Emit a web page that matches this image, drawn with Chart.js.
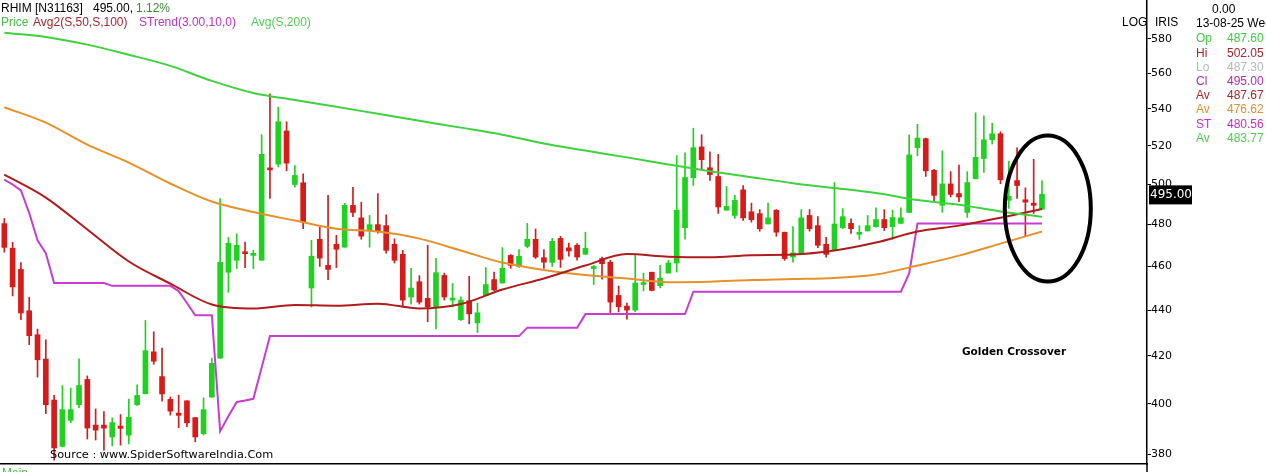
<!DOCTYPE html>
<html>
<head>
<meta charset="utf-8">
<title>RHIM - Golden Crossover</title>
<script src="https://cdn.jsdelivr.net/npm/chart.js"></script>
<style>
html, body { margin: 0; padding: 0; background: #fff; }
#wrap { width: 1266px; height: 472px; }
</style>
</head>
<body>
<div id="wrap"><canvas id="priceChart"></canvas></div>
<script>
// daily candles, oldest first
const opens = [480.5, 468.6, 458.6, 439.7, 429.1, 418.6, 401.5, 383, 393.3, 399.6,
  410, 391.4, 391.4, 386.7, 391, 387.4, 399.6, 404.1, 421.7, 411.2,
  401.8, 396.2, 401.2, 394.4, 388, 402.7, 419, 457.3, 462.9, 466.7,
  465.2, 462.9, 508.5, 510.5, 528, 500, 500.9, 450, 472.9, 460.5,
  470.5, 469.1, 489.5, 483.3, 477.1, 480, 479.5, 470.5, 465.7, 445.9,
  452.9, 445.3, 441.4, 455.8, 444.5, 435.7, 444.2, 434.3, 446.6, 453.9,
  452.3, 465.2, 460, 469.5, 472.9, 464.1, 461.9, 473.3, 468.8, 470,
  465.7, 459, 463.7, 462, 446.6, 441.8, 440, 451.6, 457.3, 451.1,
  456.9, 461.6, 478.5, 503.5, 519.5, 508.6, 504.1, 487.1, 484.5, 497.3,
  486.3, 485.4, 480.3, 487.1, 476.3, 464.4, 465.7, 484.5, 479.5, 470.5,
  467.6, 478.5, 480.6, 475.3, 476.9, 479, 482.5, 479, 480.6, 486,
  519.1, 523.9, 507.3, 489.5, 500.3, 495.4, 486, 502.9, 513.4, 523.3,
  526.5, 492, 502, 492.3, 490.6, 487.6];
const highs = [483, 471.4, 461.8, 445.8, 431.6, 426.9, 403.4, 407.5, 406.4, 418.7,
  411.5, 397.9, 396.8, 394.3, 395.6, 401.9, 407.8, 435.4, 430.4, 423.3,
  402.8, 403.5, 401.2, 394.4, 402.4, 419, 492.9, 473.8, 475.5, 471.6,
  467.6, 526, 548.3, 541, 533, 509.7, 505.5, 472.4, 478.7, 494.5,
  474.8, 490.6, 498.6, 491.1, 484.5, 495.4, 484.8, 473.1, 467.6, 459.1,
  455.7, 470, 463.8, 456.9, 452.1, 446, 455.4, 443.2, 459.5, 457.4,
  468.9, 465.6, 467.9, 480.6, 477.9, 467.9, 473.3, 474.3, 471.1, 470.8,
  476.3, 460.5, 464.4, 462.9, 450.9, 443.2, 465.2, 456.9, 457.3, 460.5,
  462.9, 514.9, 516.4, 529.5, 526, 516.9, 515.6, 499, 494.5, 499.5,
  490.6, 487.4, 490.6, 487.4, 476.3, 479.1, 487.4, 487.4, 483.9, 473.8,
  501, 487.9, 482.8, 479.5, 484.5, 488.3, 487.4, 487.1, 488.3, 526,
  531.6, 524.2, 507.8, 517.5, 506.6, 510, 506.6, 537.9, 536.2, 532.2,
  527.6, 512, 519, 498.3, 513, 502.05];
const lows = [466.7, 446.4, 435.7, 424.8, 411, 396, 377.7, 382.8, 392.3, 398.4,
  385.9, 385.5, 381.5, 383.2, 383.5, 384, 399.3, 404, 416.4, 401,
  395.4, 390.4, 390.8, 384.8, 387.5, 402.7, 419, 448, 459, 459.4,
  459, 462.9, 493, 509, 507, 498.6, 478, 441.4, 460, 453.8,
  459.5, 469.1, 483.9, 472.9, 469.1, 475.8, 466.2, 461.6, 441.4, 442.7,
  442.7, 434.8, 431.6, 444.5, 441.4, 435.4, 433.9, 430, 446.6, 448.8,
  452.3, 459.1, 459.5, 468.9, 463.7, 459.1, 460, 459.5, 464.8, 462.9,
  465.7, 451.6, 454.1, 438.3, 439.2, 436, 439.2, 448.7, 448.7, 450.1,
  456.9, 457.4, 472.9, 499.5, 507.7, 502.1, 485.5, 487.1, 483, 482,
  481.2, 476.8, 480.3, 474.3, 462.9, 462, 465.7, 476.8, 468.9, 464.4,
  467.6, 478, 475.7, 472.8, 476.9, 478.7, 477.1, 472.8, 480.6, 486,
  514.9, 504.1, 491.7, 486, 493.7, 491.3, 483.5, 502.9, 506.2, 521,
  500.4, 488, 493, 474.3, 485.5, 487.3];
const closes = [469, 450.5, 438.7, 428.7, 418.3, 399.6, 382.4, 397.6, 397.6, 407.5,
  390.2, 389.4, 390.2, 392.4, 390.1, 394.5, 403.4, 422.2, 417.7, 404,
  397, 395.3, 392.3, 386.7, 397.6, 416.8, 461.9, 471, 470, 466,
  465.7, 515.6, 507.5, 533, 511, 504.6, 481.2, 464.8, 463.9, 458.6,
  468.1, 489.5, 486, 474.4, 480, 476.8, 467.6, 462.9, 444.5, 450,
  443.6, 441.4, 457.1, 445.9, 445, 444.5, 438.3, 438.8, 451.6, 449.1,
  459.1, 460.5, 464.8, 472.9, 464.4, 462, 471.9, 463.3, 467.3, 464.4,
  468.6, 459.3, 461.3, 443.6, 441.5, 440, 452.3, 452, 448.9, 454.5,
  461.6, 487.1, 503.6, 519.1, 512.8, 505.1, 488.7, 489, 492, 483.3,
  482.4, 478, 483.3, 476.3, 463.7, 466.4, 483.3, 478, 470, 465.7,
  480.3, 483.9, 478, 475.8, 479.5, 482.5, 478.5, 483.5, 483.3, 515.3,
  524.2, 507, 494.5, 500.3, 495, 493.7, 501, 514, 523.3, 526.5,
  502.4, 494, 499.5, 491.1, 489.5, 495];

// moving averages, read every 5th candle
const avgIdx = [0, 5, 10, 15, 20, 25, 30, 35, 40, 45, 50, 55, 60, 65, 70, 75, 80, 85, 90, 95, 100, 105, 110, 115, 120, 125];
const avg200 = [583.5, 581, 576.5, 570.6, 564.2, 555.6, 548.8, 544.9, 541.2, 537.3, 533.5, 529.8, 526, 521.3, 517.6, 514, 510.3, 506.8, 503.7, 500.7, 498.2, 495.7, 492.2, 489.8, 486.5, 483.8];
const avg50 = [505.1, 493.4, 477.6, 462.3, 452, 442.5, 440.7, 442.3, 442, 442.9, 440.7, 442.7, 449.3, 454.4, 460.4, 465.8, 464.6, 464.3, 465.3, 465.6, 467.5, 471.3, 476.6, 479.5, 483.4, 487.67];
const avg100 = [540.9, 532.5, 520.7, 511.3, 500.5, 491.4, 486.2, 482, 478, 476.6, 473.2, 467.5, 461.8, 458.3, 456, 454.4, 452.7, 452.9, 453.7, 454.1, 454.6, 456.2, 460.4, 465.1, 470.8, 476.62];

// supertrend corners
const stIdx = [0, 1, 2, 3, 4, 5, 6, 12, 13, 20, 21, 22, 23, 25, 26, 27, 28, 29, 30, 31, 32, 62, 63, 69, 70, 82, 83, 108, 109, 110, 125];
const stVal = [502.5, 500, 497, 485.7, 472.4, 466.2, 452.3, 452.3, 451, 451, 448.6, 443.2, 437.7, 437.7, 388.9, 395, 400.7, 401.3, 402, 415, 428.5, 428.5, 432.2, 432.2, 438.2, 438.2, 448.3, 448.3, 456.7, 480.56, 480.56];

const yTicks = [380, 400, 420, 440, 460, 480, 500, 520, 540, 560, 580];
const lastPrice = 495.00;

// info panel on the right
const panelLabels = ['Op', 'Hi', 'Lo', 'Cl', 'Av', 'Av', 'ST', 'Av'];
const panelValues = ['487.60', '502.05', '487.30', '495.00', '487.67', '476.62', '480.56', '483.77'];
const panelColors = ['#3ccf3c', '#a8262c', '#b8b8b8', '#b52ab5', '#a8262c', '#e0902e', '#c030c8', '#4fcf4f'];

// ellipse round the crossover (centre in data units)
const ringX = 125.7, ringY = 487.9;

const UP = '#1fd21f', DOWN = '#d71a1a';
const candleColors = opens.map((o, i) => closes[i] >= o ? UP : DOWN);
const wicks = opens.map((o, i) => ({ x: i, y: [lows[i], highs[i]] }));
const bodies = opens.map((o, i) => ({ x: i, y: [Math.min(o, closes[i]), Math.max(o, closes[i])] }));
const pts = (xs, ys) => xs.map((v, i) => ({ x: v, y: ys[i] }));

const FONT = '"DejaVu Sans", Verdana, sans-serif';
const SANS = '"Liberation Sans", Arial, sans-serif';

const overlay = {
    id: 'overlay',
    afterDraw(chart) {
        const { ctx, chartArea: a, scales: { x, y } } = chart;
        ctx.save();
        // axis line runs down to the bottom edge
        ctx.strokeStyle = '#000';
        ctx.lineWidth = 1.5;
        ctx.beginPath();
        ctx.moveTo(a.right, a.bottom);
        ctx.lineTo(a.right, chart.height);
        ctx.stroke();

        ctx.textBaseline = 'middle';
        const put = (t, px, py, color, font) => {
            ctx.font = font || ('12px ' + SANS);
            ctx.fillStyle = color;
            ctx.fillText(t, px, py);
        };
        // header
        put('RHIM [N31163]', 1, 9, '#000');
        put('495.00,', 93, 9, '#000');
        put('1.12%', 136, 9, '#3a8a3a');
        put('Price', 1, 23, '#45c045');
        put('Avg2(S,50,S,100)', 33, 23, '#a8262c');
        put('STrend(3.00,10,0)', 139, 23, '#c030c8');
        put('Avg(S,200)', 251, 23, '#4fcf4f');

        // right side panel
        put('LOG', 1122, 23, '#000');
        put('IRIS', 1155, 23, '#000');
        put('0.00', 1212, 10, '#000');
        put('13-08-25 Wed', 1196, 24, '#000');
        panelLabels.forEach((lab, i) => {
            put(lab, 1196, 39 + i * 14.2, panelColors[i]);
            put(panelValues[i], 1227, 39 + i * 14.2, panelColors[i]);
        });

        // last price tag
        const py = y.getPixelForValue(lastPrice);
        ctx.fillStyle = '#000';
        ctx.fillRect(a.right + 2, py - 9, 43, 19);
        put(lastPrice.toFixed(2), a.right + 3, py + 0.5, '#fff', '12px ' + FONT);

        // notes
        put('Golden Crossover', 962, 352, '#000', 'bold 10.5px ' + FONT);
        put('Source : www.SpiderSoftwareIndia.Com', 50, 455, '#000', '11.3px ' + FONT);
        put('Main', 2, 474, '#45c045');

        // ellipse
        ctx.strokeStyle = '#000';
        ctx.lineWidth = 4;
        ctx.beginPath();
        ctx.ellipse(x.getPixelForValue(ringX), y.getPixelForValue(ringY), 43, 73, 0, 0, Math.PI * 2);
        ctx.stroke();
        ctx.restore();
    }
};

new Chart(document.getElementById('priceChart'), {
    type: 'bar',
    data: {
        datasets: [{
            type: 'line',
            label: 'Avg(S,200)',
            data: pts(avgIdx, avg200),
            borderColor: '#3fd23f',
            borderWidth: 2,
            pointRadius: 0,
            cubicInterpolationMode: 'monotone',
            order: 0
        }, {
            type: 'line',
            label: 'Avg2 50',
            data: pts(avgIdx, avg50),
            borderColor: '#b01c1c',
            borderWidth: 2,
            pointRadius: 0,
            cubicInterpolationMode: 'monotone',
            order: 0
        }, {
            type: 'line',
            label: 'Avg2 100',
            data: pts(avgIdx, avg100),
            borderColor: '#e8912a',
            borderWidth: 2,
            pointRadius: 0,
            cubicInterpolationMode: 'monotone',
            order: 0
        }, {
            type: 'line',
            label: 'STrend',
            data: pts(stIdx, stVal),
            borderColor: '#c83cd2',
            borderWidth: 2,
            pointRadius: 0,
            tension: 0,
            order: 0
        }, {
            label: 'wick',
            data: wicks,
            backgroundColor: candleColors,
            barThickness: 1,
            grouped: false,
            order: 2
        }, {
            label: 'body',
            data: bodies,
            backgroundColor: candleColors,
            barThickness: 5,
            minBarLength: 2,
            grouped: false,
            order: 1
        }]
    },
    options: {
        responsive: true,
        maintainAspectRatio: false,
        animation: false,
        events: [],
        layout: { padding: 0 },
        plugins: {
            legend: { display: false },
            title: { display: false },
            tooltip: { enabled: false }
        },
        scales: {
            x: {
                type: 'linear',
                min: -0.52,
                max: 137.65,
                offset: false,
                grid: { display: false },
                ticks: { display: false },
                border: { display: true, color: '#000', width: 1.5 },
                afterFit: s => { s.height = 8; }
            },
            y: {
                type: 'logarithmic',
                position: 'right',
                min: 376.2,
                max: 603.3,
                grid: { display: true, drawOnChartArea: false, drawTicks: true, tickLength: 4, color: '#000', tickColor: '#000' },
                border: { display: true, color: '#000', width: 1.5 },
                ticks: {
                    color: '#000',
                    padding: 0,
                    font: { family: FONT, size: 11 },
                    callback: v => String(v)
                },
                afterBuildTicks: s => { s.ticks = yTicks.map(v => ({ value: v })); },
                afterFit: s => {
                    s.width = 119;
                    s.paddingTop = 0;
                    s.paddingBottom = 0;
                }
            }
        }
    },
    plugins: [overlay]
});
</script>
</body>
</html>
